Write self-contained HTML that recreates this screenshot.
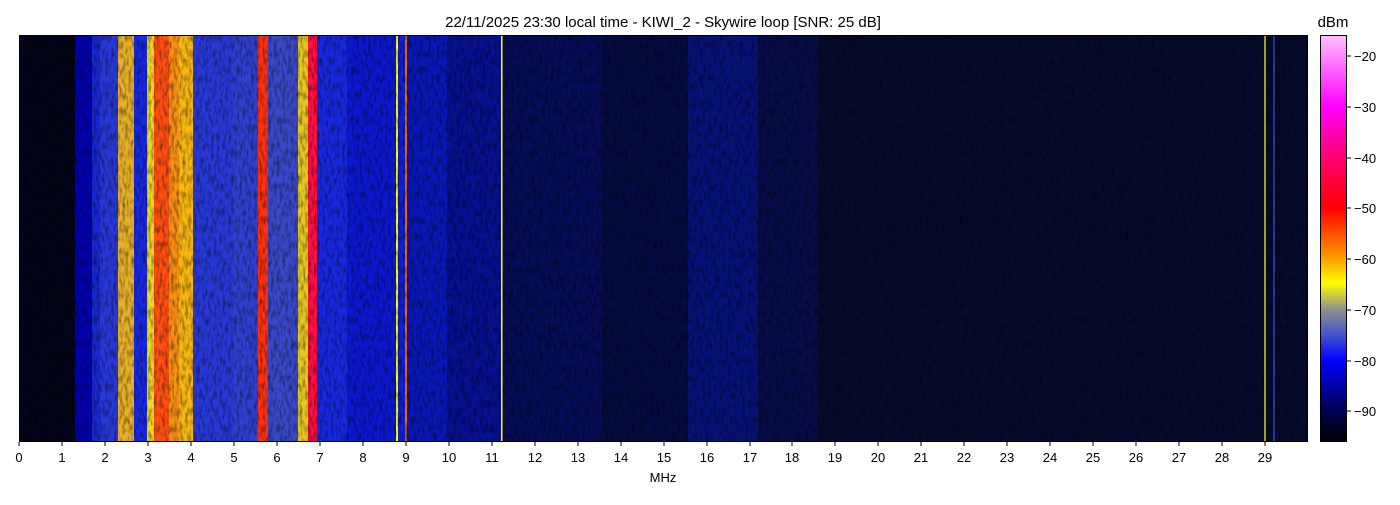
<!DOCTYPE html>
<html><head><meta charset="utf-8"><style>
body{margin:0;background:#fff;width:1400px;height:500px;overflow:hidden;font-family:"Liberation Sans",sans-serif}
</style></head><body>
<svg width="1400" height="500" xmlns="http://www.w3.org/2000/svg" font-family="Liberation Sans, sans-serif">
<defs>
<linearGradient id="cb" x1="0" y1="1" x2="0" y2="0">
<stop offset="0" stop-color="#000000"/>
<stop offset="0.075" stop-color="#000050"/>
<stop offset="0.2" stop-color="#0000ff"/>
<stop offset="0.26" stop-color="#4050d0"/>
<stop offset="0.325" stop-color="#909090"/>
<stop offset="0.39" stop-color="#ffff00"/>
<stop offset="0.45" stop-color="#ffa000"/>
<stop offset="0.575" stop-color="#ff0000"/>
<stop offset="0.7" stop-color="#ff0070"/>
<stop offset="0.825" stop-color="#ff00ff"/>
<stop offset="1" stop-color="#ffc0ff"/>
</linearGradient>
<filter id="nz" x="0" y="0" width="100%" height="100%">
<feTurbulence type="fractalNoise" baseFrequency="0.35 0.12" numOctaves="2" seed="3"/>
<feColorMatrix values="0 0 0 0 0  0 0 0 0 0  0 0 0 0 0  0 0 0 -1.0 0.6"/>
</filter>
<clipPath id="pc"><rect x="19" y="35" width="1289" height="407"/></clipPath>
</defs>
<text x="663" y="27" font-size="15" text-anchor="middle">22/11/2025 23:30 local time - KIWI_2 - Skywire loop [SNR: 25 dB]</text>
<g clip-path="url(#pc)">
<rect x="19" y="35" width="1289" height="407" fill="#050a2c"/>
<rect x="19" y="35" width="56" height="407" fill="#04041a"/>
<rect x="75" y="35" width="17" height="407" fill="#0000b0"/>
<rect x="92" y="35" width="8" height="407" fill="#1828d0"/>
<rect x="100" y="35" width="18" height="407" fill="#2838d8"/>
<rect x="118" y="35" width="16" height="407" fill="#e8b028"/>
<rect x="134" y="35" width="13" height="407" fill="#1828e0"/>
<rect x="147" y="35" width="7" height="407" fill="#f0d820"/>
<rect x="154" y="35" width="15" height="407" fill="#ff5010"/>
<rect x="169" y="35" width="10" height="407" fill="#f89010"/>
<rect x="179" y="35" width="14" height="407" fill="#f8b810"/>
<rect x="193" y="35" width="40" height="407" fill="#2838d8"/>
<rect x="233" y="35" width="25" height="407" fill="#3040d0"/>
<rect x="258" y="35" width="10" height="407" fill="#ff3010"/>
<rect x="268" y="35" width="30" height="407" fill="#3848c8"/>
<rect x="298" y="35" width="10" height="407" fill="#e8c820"/>
<rect x="308" y="35" width="9" height="407" fill="#ff1040"/>
<rect x="317" y="35" width="30" height="407" fill="#1828e0"/>
<rect x="347" y="35" width="50" height="407" fill="#0c18d0"/>
<rect x="396" y="35" width="2" height="407" fill="#ffff00"/>
<rect x="398" y="35" width="7" height="407" fill="#1020d0"/>
<rect x="405" y="35" width="2" height="407" fill="#ff6000"/>
<rect x="407" y="35" width="40" height="407" fill="#0818b8"/>
<rect x="447" y="35" width="54" height="407" fill="#061090"/>
<rect x="502" y="35" width="100" height="407" fill="#050c58"/>
<rect x="602" y="35" width="86" height="407" fill="#040a40"/>
<rect x="688" y="35" width="70" height="407" fill="#061278"/>
<rect x="758" y="35" width="60" height="407" fill="#050c48"/>
<rect x="19" y="35" width="1289" height="407" filter="url(#nz)"/>
<rect x="501" y="35" width="1.5" height="407" fill="#ffff00"/>
<rect x="1264" y="35" width="2" height="407" fill="#e0e020" opacity="0.7"/>
<rect x="1273" y="35" width="2" height="407" fill="#4050d0" opacity="0.6"/>
</g>
<rect x="19.5" y="35.5" width="1288" height="406" fill="none" stroke="#000" stroke-width="1"/>
<g stroke="#000">
<line x1="19" y1="442" x2="19" y2="446"/><line x1="62" y1="442" x2="62" y2="446"/><line x1="105" y1="442" x2="105" y2="446"/><line x1="148" y1="442" x2="148" y2="446"/><line x1="191" y1="442" x2="191" y2="446"/><line x1="234" y1="442" x2="234" y2="446"/><line x1="277" y1="442" x2="277" y2="446"/><line x1="320" y1="442" x2="320" y2="446"/><line x1="363" y1="442" x2="363" y2="446"/><line x1="406" y1="442" x2="406" y2="446"/><line x1="449" y1="442" x2="449" y2="446"/><line x1="492" y1="442" x2="492" y2="446"/><line x1="535" y1="442" x2="535" y2="446"/><line x1="578" y1="442" x2="578" y2="446"/><line x1="621" y1="442" x2="621" y2="446"/><line x1="664" y1="442" x2="664" y2="446"/><line x1="707" y1="442" x2="707" y2="446"/><line x1="750" y1="442" x2="750" y2="446"/><line x1="792" y1="442" x2="792" y2="446"/><line x1="835" y1="442" x2="835" y2="446"/><line x1="878" y1="442" x2="878" y2="446"/><line x1="921" y1="442" x2="921" y2="446"/><line x1="964" y1="442" x2="964" y2="446"/><line x1="1007" y1="442" x2="1007" y2="446"/><line x1="1050" y1="442" x2="1050" y2="446"/><line x1="1093" y1="442" x2="1093" y2="446"/><line x1="1136" y1="442" x2="1136" y2="446"/><line x1="1179" y1="442" x2="1179" y2="446"/><line x1="1222" y1="442" x2="1222" y2="446"/><line x1="1265" y1="442" x2="1265" y2="446"/>
</g>
<g font-size="13" text-anchor="middle" fill="#000">
<text x="19" y="462">0</text><text x="62" y="462">1</text><text x="105" y="462">2</text><text x="148" y="462">3</text><text x="191" y="462">4</text><text x="234" y="462">5</text><text x="277" y="462">6</text><text x="320" y="462">7</text><text x="363" y="462">8</text><text x="406" y="462">9</text><text x="449" y="462">10</text><text x="492" y="462">11</text><text x="535" y="462">12</text><text x="578" y="462">13</text><text x="621" y="462">14</text><text x="664" y="462">15</text><text x="707" y="462">16</text><text x="750" y="462">17</text><text x="792" y="462">18</text><text x="835" y="462">19</text><text x="878" y="462">20</text><text x="921" y="462">21</text><text x="964" y="462">22</text><text x="1007" y="462">23</text><text x="1050" y="462">24</text><text x="1093" y="462">25</text><text x="1136" y="462">26</text><text x="1179" y="462">27</text><text x="1222" y="462">28</text><text x="1265" y="462">29</text>
<text x="663" y="482">MHz</text>
</g>
<rect x="1320.5" y="35.5" width="26" height="406" fill="url(#cb)" stroke="#000"/>
<text x="1333" y="27" font-size="15" text-anchor="middle">dBm</text>
<g stroke="#000">
<line x1="1347" y1="56" x2="1351" y2="56"/><line x1="1347" y1="107" x2="1351" y2="107"/><line x1="1347" y1="158" x2="1351" y2="158"/><line x1="1347" y1="208" x2="1351" y2="208"/><line x1="1347" y1="259" x2="1351" y2="259"/><line x1="1347" y1="310" x2="1351" y2="310"/><line x1="1347" y1="361" x2="1351" y2="361"/><line x1="1347" y1="411" x2="1351" y2="411"/>
</g>
<g font-size="13" fill="#000">
<text x="1354" y="61">−20</text><text x="1354" y="112">−30</text><text x="1354" y="163">−40</text><text x="1354" y="213">−50</text><text x="1354" y="264">−60</text><text x="1354" y="315">−70</text><text x="1354" y="366">−80</text><text x="1354" y="416">−90</text>
</g>
</svg>
</body></html>
